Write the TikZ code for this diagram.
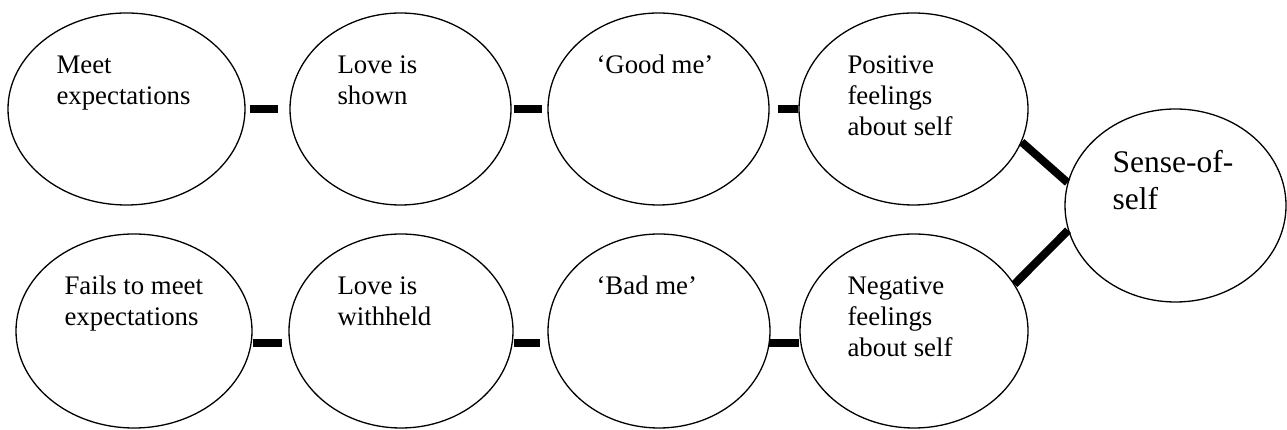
\documentclass[tikz,border=0pt]{standalone}
\usepackage{fontspec}
\setmainfont{Liberation Serif}
\usetikzlibrary{shapes.geometric,calc}
\tikzset{
  bub/.style={draw,ellipse,line width=1.3pt,inner sep=0},
  txt/.style={anchor=north west,inner sep=0,align=left,font=\fontsize{26.8}{30.8}\selectfont},
  bar/.style={line width=8pt}
}
\begin{document}
\begin{tikzpicture}[x=1pt,y=1pt]
    \useasboundingbox(0,0)rectangle(1287,430);
    % top row
    \node[bub,minimum width=237,minimum height=192](m1)at(126.5,321){};
    \node[bub,minimum width=221,minimum height=192](m2)at(400.5,321){};
    \node[bub,minimum width=221,minimum height=192](m3)at(658.5,321){};
    \node[bub,minimum width=229,minimum height=192](m4)at(913.5,321){};
    % bottom row
    \node[bub,minimum width=236,minimum height=194](f1)at(134,99){};
    \node[bub,minimum width=224,minimum height=194](f2)at(401,99){};
    \node[bub,minimum width=222,minimum height=194](f3)at(659,99){};
    \node[bub,minimum width=228,minimum height=194](f4)at(914,99){};
    \node[bub,minimum width=221,minimum height=193](self)at(1175.5,224.5){};
    % texts
    \node[txt](m1t)at($(m1.west|-m1.north)+(49,-39.4)$){\strut Meet\\expectations};
    \node[txt](m2t)at($(m2.west|-m2.north)+(48,-39.4)$){\strut Love is\\shown};
    \node[txt](m3t)at($(m3.west|-m3.north)+(49,-39.4)$){\strut `Good me'};
    \node[txt](m4t)at($(m4.west|-m4.north)+(49,-39.4)$){\strut Positive\\feelings\\about self};
    \node[txt](f1t)at($(f1.west|-f1.north)+(49,-39.4)$){\strut Fails to meet\\expectations};
    \node[txt](f2t)at($(f2.west|-f2.north)+(49,-39.4)$){\strut Love is\\withheld};
    \node[txt](f3t)at($(f3.west|-f3.north)+(49,-39.4)$){\strut `Bad me'};
    \node[txt](f4t)at($(f4.west|-f4.north)+(48,-39.4)$){\strut Negative\\feelings\\about self};
    \node[txt,font=\fontsize{31.5}{37}\selectfont](selft)at($(self.west|-self.north)+(48,-38.1)$){\strut Sense-of-\\self};
    % bars
    \draw[bar,shorten <=4pt,shorten >=11pt](m1.east)--(m2.west);
    \draw[bar,shorten <=2pt,shorten >=5pt](m2.east)--(m3.west);
    \draw[bar,shorten <=8pt](m3.east)--(m4.west);
    \draw[bar]([yshift=-12pt]f1.east)--([shift={(-6pt,-12pt)}]f2.west);
    \draw[bar]([yshift=-12pt]f2.east)--([shift={(-7pt,-12pt)}]f3.west);
    \draw[bar]([shift={(-2pt,-12pt)}]f3.east)--([yshift=-12pt]f4.west);
    \draw[bar](m4.-17)--(self.168);
    \draw[bar](f4.25)--(self.-167);
\end{tikzpicture}
\end{document}
